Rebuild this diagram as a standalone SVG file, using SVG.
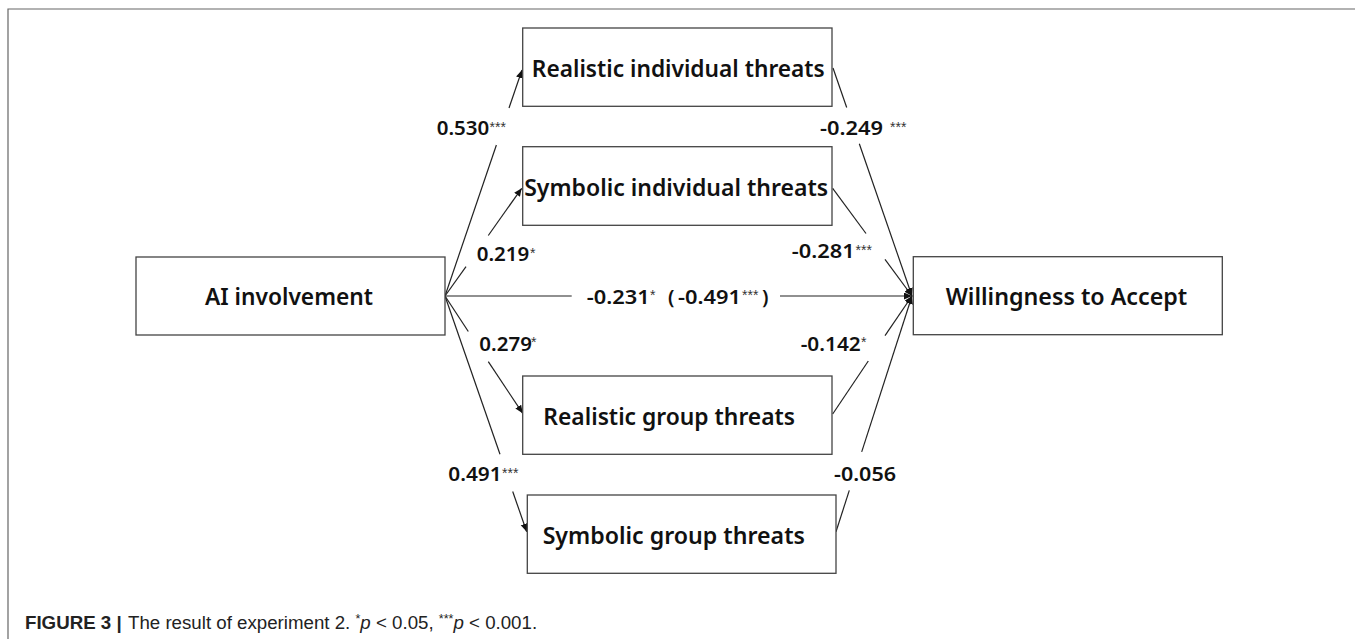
<svg xmlns="http://www.w3.org/2000/svg" width="1355" height="639" viewBox="0 0 1355 639">
<defs>
<style>
.box{fill:#fff;stroke:#444;stroke-width:1.3}
.nt{font-family:"Noto Sans","Open Sans",sans-serif;font-size:24px;font-weight:600;fill:#111;text-anchor:middle}
.lb{font-family:"Noto Sans","Open Sans",sans-serif;font-size:20px;font-weight:600;fill:#111}
.st{font-family:"Liberation Sans",Arial,sans-serif;font-size:14px;fill:#333}
.ln{fill:none;stroke:#222;stroke-width:1.2}
.cap{font-family:"Liberation Sans",Arial,sans-serif;font-size:18.7px;fill:#222}
</style>
<marker id="ah" markerUnits="userSpaceOnUse" markerWidth="9" markerHeight="8" refX="8" refY="3.5" orient="auto">
<path d="M0,0 L8,3.5 L0,7 z" fill="#111"/>
</marker>
</defs>
<rect width="1355" height="639" fill="#fff"/>
<path d="M8,639 V9 H1355" fill="none" stroke="#666" stroke-width="1.2"/>

<g id="connectors">
<path class="ln" d="M445,296 L496.4,145"/>
<path class="ln" d="M509,108 L522,70" marker-end="url(#ah)"/>
<path class="ln" d="M445,296 L466,266.6"/>
<path class="ln" d="M488.3,235.5 L521.7,188.3" marker-end="url(#ah)"/>
<path class="ln" d="M445,296 L468.3,331.5"/>
<path class="ln" d="M488.3,361.7 L522.7,413.3" marker-end="url(#ah)"/>
<path class="ln" d="M445,296 L500,454.3"/>
<path class="ln" d="M512.7,491.5 L526.7,531.7" marker-end="url(#ah)"/>
<path class="ln" d="M445,296 L571.7,296"/>
<path class="ln" d="M780,296 L912,296" marker-end="url(#ah)"/>
<path class="ln" d="M833,68 L846.7,107.5"/>
<path class="ln" d="M859.3,143.8 L912,296" marker-end="url(#ah)"/>
<path class="ln" d="M832.7,188.3 L866,233.5"/>
<path class="ln" d="M885,259.3 L912,296" marker-end="url(#ah)"/>
<path class="ln" d="M832.7,414 L868.3,361"/>
<path class="ln" d="M885,335.7 L912,296" marker-end="url(#ah)"/>
<path class="ln" d="M836,531.7 L849.3,490.4"/>
<path class="ln" d="M861.7,451.9 L912,296" marker-end="url(#ah)"/>
</g>

<g id="node-ai">
<rect class="box" x="136" y="257" width="309" height="78"/>
<text class="nt" x="289" y="305" textLength="168" lengthAdjust="spacingAndGlyphs">AI involvement</text>
</g>
<g id="node-rit">
<rect class="box" x="522.7" y="28" width="309.3" height="78.3"/>
<text class="nt" x="678.3" y="77" textLength="293" lengthAdjust="spacingAndGlyphs">Realistic individual threats</text>
</g>
<g id="node-sit">
<rect class="box" x="522.7" y="146.7" width="309.3" height="78.6"/>
<text class="nt" x="676.2" y="196" textLength="304" lengthAdjust="spacingAndGlyphs">Symbolic individual threats</text>
</g>
<g id="node-wta">
<rect class="box" x="913.3" y="256.7" width="309" height="78"/>
<text class="nt" x="1066.5" y="305" textLength="241.6" lengthAdjust="spacingAndGlyphs">Willingness to Accept</text>
</g>
<g id="node-rgt">
<rect class="box" x="522.7" y="376" width="309.3" height="78.3"/>
<text class="nt" x="669.2" y="425" textLength="251.7" lengthAdjust="spacingAndGlyphs">Realistic group threats</text>
</g>
<g id="node-sgt">
<rect class="box" x="527.3" y="495" width="308.7" height="78.3"/>
<text class="nt" x="673.8" y="544" textLength="262.3" lengthAdjust="spacingAndGlyphs">Symbolic group threats</text>
</g>

<g id="labels">
<text class="lb" x="436.7" y="135" textLength="52.6" lengthAdjust="spacingAndGlyphs">0.530</text>
<text class="st" x="489.5" y="131.5">***</text>
<text class="lb" x="820" y="135" textLength="63" lengthAdjust="spacingAndGlyphs">-0.249</text>
<text class="st" x="890" y="131.5">***</text>
<text class="lb" x="476.7" y="261" textLength="52.6" lengthAdjust="spacingAndGlyphs">0.219</text>
<text class="st" x="530" y="257.5">*</text>
<text class="lb" x="791.7" y="258" textLength="63" lengthAdjust="spacingAndGlyphs">-0.281</text>
<text class="st" x="855.5" y="254.5">***</text>
<text class="lb" x="586.7" y="303.5" textLength="63" lengthAdjust="spacingAndGlyphs">-0.231</text>
<text class="st" x="650" y="300">*</text>
<text class="lb" x="668" y="303.5">(</text>
<text class="lb" x="678" y="303.5" textLength="63" lengthAdjust="spacingAndGlyphs">-0.491</text>
<text class="st" x="742" y="300">***</text>
<text class="lb" x="762" y="303.5">)</text>
<text class="lb" x="479.3" y="350.7" textLength="52.6" lengthAdjust="spacingAndGlyphs">0.279</text>
<text class="st" x="531" y="347">*</text>
<text class="lb" x="800.7" y="350.7" textLength="60" lengthAdjust="spacingAndGlyphs">-0.142</text>
<text class="st" x="861" y="347">*</text>
<text class="lb" x="448.3" y="481" textLength="53.4" lengthAdjust="spacingAndGlyphs">0.491</text>
<text class="st" x="502" y="477.5">***</text>
<text class="lb" x="834" y="481" textLength="62" lengthAdjust="spacingAndGlyphs">-0.056</text>
</g>

<g id="caption">
<text class="cap" x="25" y="629"><tspan font-weight="bold">FIGURE 3 |</tspan><tspan x="128">The result of experiment 2. </tspan><tspan font-size="12.5" dy="-6">*</tspan><tspan font-style="italic" dy="6">p</tspan><tspan> &lt; 0.05, </tspan><tspan font-size="12.5" dy="-6">***</tspan><tspan font-style="italic" dy="6">p</tspan><tspan> &lt; 0.001.</tspan></text>
</g>
</svg>
